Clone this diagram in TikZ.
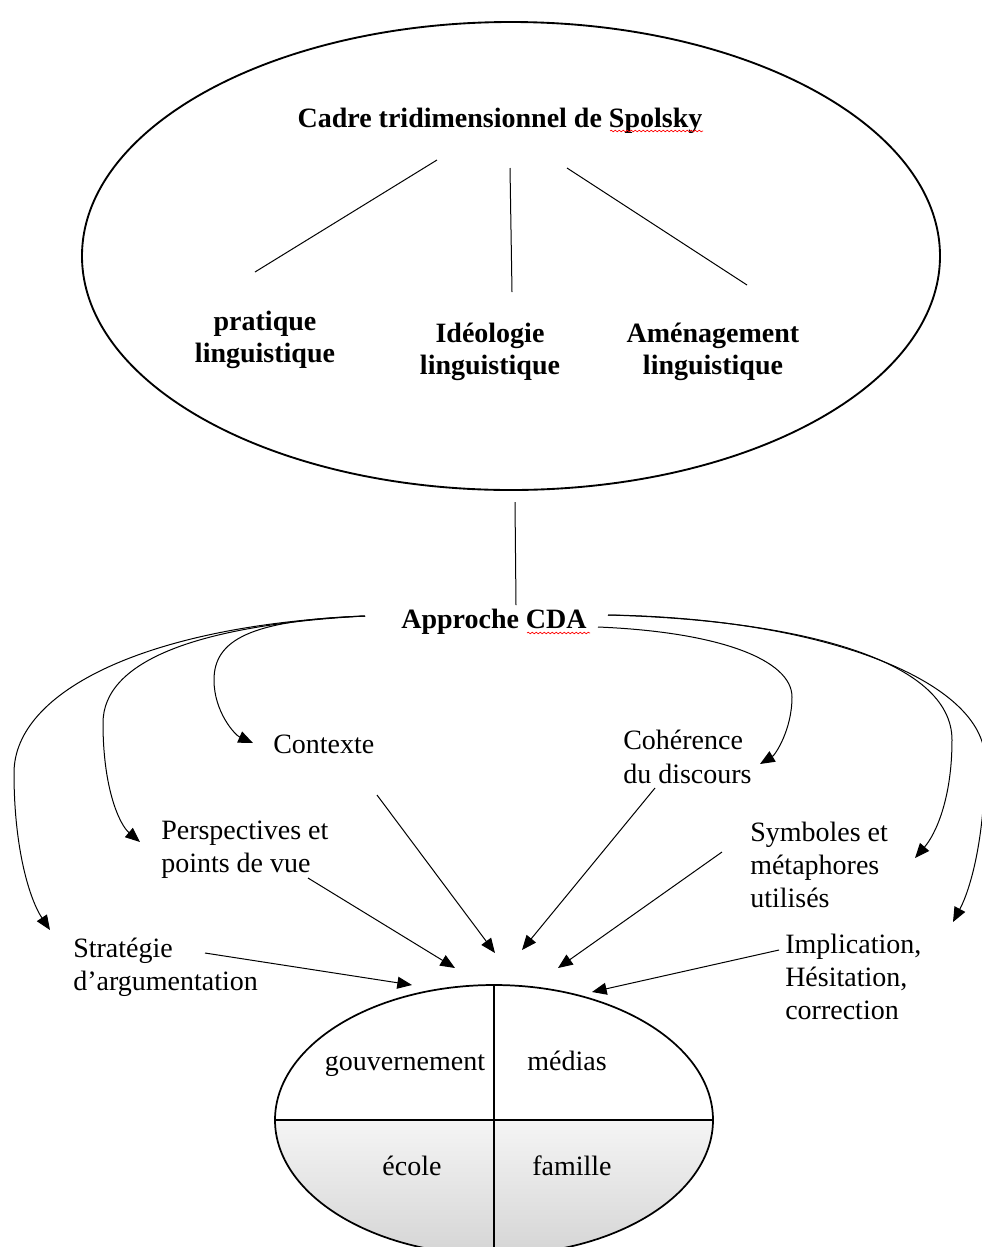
\documentclass[tikz,border=0pt]{standalone}
\usepackage{fontspec}
\setmainfont{Liberation Serif}
\usetikzlibrary{shapes.geometric,arrows.meta,decorations.pathmorphing}
\begin{document}
\begin{tikzpicture}[x=0.75pt,y=-0.75pt,
  lbl/.style={font=\fontsize{21}{25}\selectfont, inner sep=0pt, align=left},
  blbl/.style={font=\fontsize{21}{24.5}\selectfont\bfseries, inner sep=0pt, align=center},
  conn/.style={line width=0.75pt},
  arr/.style={line width=0.75pt,-{Triangle[length=11pt,width=9pt]}},
  squig/.style={red, line width=0.5pt, decorate, decoration={snake,amplitude=0.6pt,segment length=3pt}}]
\useasboundingbox (0,0) rectangle (982,1247);

% top ellipse
\node[draw, ellipse, line width=1.4pt, minimum width=643.5pt, minimum height=351pt, inner sep=0pt] (topell) at (511,256) {};
\node[blbl, anchor=base] (title) at (500,127) {Cadre tridimensionnel de Spolsky};
\node[blbl] (prat) at (265,340) {pratique\\linguistique};
\node[blbl] (ideo) at (490,352) {Idéologie\\linguistique};
\node[blbl] (amen) at (713,352) {Aménagement\\linguistique};
\draw[squig] (610,131) -- (703,131);

\coordinate (l1s) at (437,160); \coordinate (l1e) at (255,272);
\coordinate (l2s) at (510,168); \coordinate (l2e) at (512,292);
\coordinate (l3s) at (567,168); \coordinate (l3e) at (747,285);
\draw[conn] (l1s) -- (l1e);
\draw[conn] (l2s) -- (l2e);
\draw[conn] (l3s) -- (l3e);

% link to CDA
\coordinate (vs) at (515,502); \coordinate (ve) at (516,605);
\draw[conn] (vs) -- (ve);
\node[blbl, anchor=base] (cda) at (494,628) {Approche CDA};
\draw[squig] (527,633) -- (590,633);

% labels
\node[lbl, anchor=base west] (contexte) at (273,753) {Contexte};
\node[lbl, anchor=west] (coher) at (623,757) {Cohérence\\du discours};
\node[lbl, anchor=west] (persp) at (161,850) {Perspectives et\\points de vue};
\node[lbl, anchor=west] (symb) at (750,865) {Symboles et\\métaphores\\utilisés};
\node[lbl, anchor=west] (strat) at (73,967) {Stratégie\\d’argumentation};
\node[lbl, anchor=west] (impl) at (785,977) {Implication,\\Hésitation,\\correction};

% curved arrows from CDA
\coordinate (cL) at (365,616);
\coordinate (cR1) at (598,627);
\coordinate (cR2) at (608,615);
\coordinate (tCon) at (253,743);
\coordinate (tPer) at (140,842);
\coordinate (tStr) at (50,930);
\coordinate (tCoh) at (760,764);
\coordinate (tSym) at (915,858);
\coordinate (tImp) at (953,922);

\draw[arr] (cL) .. controls (250,620) and (214,640) .. (214,680) .. controls (214,712) and (235,735) .. (tCon);
\draw[arr] (cL) .. controls (200,625) and (103,660) .. (103,723) .. controls (103,790) and (120,825) .. (tPer);
\draw[arr] (cL) .. controls (150,625) and (14,690) .. (14,773) .. controls (14,850) and (30,900) .. (tStr);
\draw[arr] (cR1) .. controls (720,632) and (792,660) .. (792,697) .. controls (792,730) and (775,755) .. (tCoh);
\draw[arr] (cR2) .. controls (800,620) and (952,660) .. (952,740) .. controls (952,800) and (935,835) .. (tSym);
\draw[arr] (cR2) .. controls (820,618) and (985,680) .. (985,760) .. controls (985,840) and (970,890) .. (tImp);

% bottom ellipse: white upper half, grey gradient lower half
\begin{scope}
  \clip (494,1120) ellipse [x radius=164.25pt, y radius=101.25pt];
  \fill[white] (275,985) rectangle (713,1120);
  \shade[top color=black!4, bottom color=black!17] (270,1120) rectangle (720,1260);
\end{scope}
\node[draw, ellipse, line width=1.3pt, minimum width=328.5pt, minimum height=202.5pt, inner sep=0pt] (bell) at (494,1120) {};
\draw[line width=1.3pt] (bell.west) -- (bell.east);
\draw[line width=1.3pt] (bell.north) -- (bell.south);
\node[lbl, anchor=base] (gouv) at (405,1070) {gouvernement};
\node[lbl, anchor=base] (medias) at (567,1070) {médias};
\node[lbl, anchor=base] (ecole) at (412,1175) {école};
\node[lbl, anchor=base] (famille) at (572,1175) {famille};

% straight arrows into bottom ellipse
\coordinate (sCon) at (377,795);  \coordinate (eCon) at (495,953);
\coordinate (sPer) at (308,878);  \coordinate (ePer) at (455,968);
\coordinate (sStr) at (205,953);  \coordinate (eStr) at (412,985);
\coordinate (sCoh) at (655,788);  \coordinate (eCoh) at (522,950);
\coordinate (sSym) at (722,852);  \coordinate (eSym) at (558,968);
\coordinate (sImp) at (779,950);  \coordinate (eImp) at (592,992);
\draw[arr] (sCon) -- (eCon);
\draw[arr] (sPer) -- (ePer);
\draw[arr] (sStr) -- (eStr);
\draw[arr] (sCoh) -- (eCoh);
\draw[arr] (sSym) -- (eSym);
\draw[arr] (sImp) -- (eImp);
\end{tikzpicture}
\end{document}
